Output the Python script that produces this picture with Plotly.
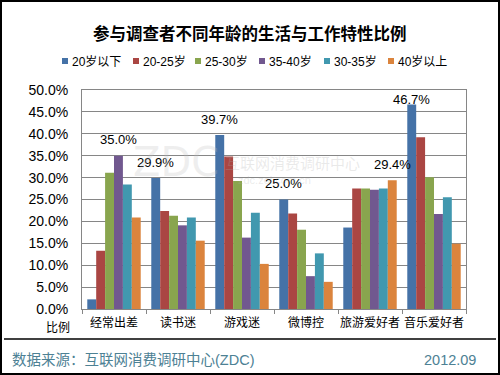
import plotly.graph_objects as go

categories = ["经常出差", "读书迷", "游戏迷", "微博控", "旅游爱好者", "音乐爱好者"]
series_names = ["20岁以下", "20-25岁", "25-30岁", "35-40岁", "30-35岁", "40岁以上"]
s_under20 = [2.2, 29.9, 39.7, 25.0, 18.6, 46.7]
s_20_25 = [13.3, 22.4, 34.8, 21.8, 27.5, 39.2]
s_25_30 = [31.1, 21.3, 29.2, 18.1, 27.5, 30.1]
s_35_40 = [35.0, 19.1, 16.3, 7.5, 27.2, 21.7]
s_30_35 = [28.4, 20.9, 22.0, 12.7, 27.5, 25.5]
s_over40 = [20.9, 15.6, 10.3, 6.2, 29.4, 14.9]
series_values = [s_under20, s_20_25, s_25_30, s_35_40, s_30_35, s_over40]
colors = ["#4572A7", "#AA4643", "#89A54E", "#71588F", "#4198AF", "#DB843D"]
y_ticks = [0, 5, 10, 15, 20, 25, 30, 35, 40, 45, 50]

W, H = 500, 375
ML, MR, MT, MB = 82, 34, 90, 66
PW, PH = W - ML - MR, H - MT - MB


def px(x):
    return (x - ML) / PW


def py(y):
    return (H - MB - y) / PH


FONT = "Liberation Sans, Noto Sans CJK SC"
CJK = "Noto Sans CJK SC, Liberation Sans"


def note(x, y, text, font, xanchor="center"):
    return dict(x=px(x), y=py(y), xref="paper", yref="paper", text=text,
                showarrow=False, xanchor=xanchor, yanchor="middle", font=font)


fig = go.Figure()
for name, vals, col in zip(series_names, series_values, colors):
    fig.add_trace(go.Bar(
        name=name, x=categories, y=vals, marker=dict(color=col, line=dict(width=0)),
        showlegend=False, hovertemplate="%{x} " + name + ": %{y:.1f}%<extra></extra>",
    ))

bargap = 0.165
nser = len(series_values)
bw = (1 - bargap) / nser
annotations = []
# label the maximum bar in each category
for ci in range(len(categories)):
    vals = [s[ci] for s in series_values]
    mi = max(range(nser), key=lambda k: vals[k])
    v = vals[mi]
    annotations.append(dict(
        x=ci + (mi - (nser - 1) / 2) * bw, y=v, xref="x", yref="y",
        text=f"{v:.1f}%", showarrow=False, xanchor="center", yanchor="middle",
        yshift=16 if v < 45 else 5, font=dict(family=FONT, size=13, color="#000000"),
    ))

# title
annotations.append(note(250, 33, "<b>参与调查者不同年龄的生活与工作特性比例</b>",
                        dict(family=CJK, size=16.5, color="#000000")))

# manual legend
shapes = []
leg_x = [62, 133, 195, 259, 324, 388]
for lx, name, col in zip(leg_x, series_names, colors):
    shapes.append(dict(type="rect", xref="paper", yref="paper",
                       x0=px(lx), x1=px(lx + 6), y0=py(58), y1=py(64),
                       fillcolor=col, line=dict(width=0)))
    annotations.append(note(lx + 8, 61, name, dict(family=FONT, size=12, color="#000000"),
                            xanchor="left"))

# "比例" label
annotations.append(note(58, 326, "比例", dict(family=CJK, size=12, color="#000000")))

# watermark
annotations.append(note(176, 162, "ZDC",
                        dict(family="DejaVu Sans", size=40, color="rgba(190,190,190,0.25)")))
annotations.append(note(292, 162, "互联网消费调研中心",
                        dict(family=CJK, size=15, color="rgba(170,170,170,0.25)")))
annotations.append(note(274, 180, "zdc.zol.com.cn",
                        dict(family=FONT, size=11, color="rgba(170,170,170,0.25)")))

# footer
annotations.append(note(10, 360, "数据来源：互联网消费调研中心(ZDC)",
                        dict(family=FONT, size=14.5, color="#4D8194"), xanchor="left"))
annotations.append(note(478, 360, "2012.09",
                        dict(family=FONT, size=14.5, color="#4D8194"), xanchor="right"))

# separator line and outer border
shapes.append(dict(type="line", xref="paper", yref="paper",
                   x0=px(4), x1=px(496), y0=py(339), y1=py(339),
                   line=dict(color="#000000", width=1.5)))
shapes.append(dict(type="rect", xref="paper", yref="paper",
                   x0=px(1), x1=px(499), y0=py(1), y1=py(374),
                   line=dict(color="#000000", width=2)))

fig.update_layout(
    width=W, height=H, margin=dict(l=ML, r=MR, t=MT, b=MB),
    paper_bgcolor="#FFFFFF", plot_bgcolor="#FFFFFF",
    barmode="group", bargap=bargap, bargroupgap=0,
    annotations=annotations, shapes=shapes, showlegend=False,
    xaxis=dict(type="category", range=[-0.5, len(categories) - 0.5],
               showline=True, linecolor="#868686", linewidth=1, mirror=True,
               ticks="outside", tickson="boundaries", ticklen=4, tickcolor="#868686",
               tickangle=0, ticklabelstandoff=3,
               tickfont=dict(family=CJK, size=12, color="#000000"), showgrid=False),
    yaxis=dict(range=[0, 50], tickvals=y_ticks,
               ticktext=[f"{t:.1f}%" for t in y_ticks],
               showline=True, linecolor="#868686", linewidth=1, mirror=True,
               showgrid=True, gridcolor="#868686", gridwidth=1, zeroline=False,
               ticks="", ticklabelstandoff=10,
               tickfont=dict(family=FONT, size=14, color="#000000")),
)

fig.write_html(
    "out.html",
    config={"displayModeBar": False},
    post_script="document.body.style.margin='0';document.body.style.overflow='hidden';",
)
